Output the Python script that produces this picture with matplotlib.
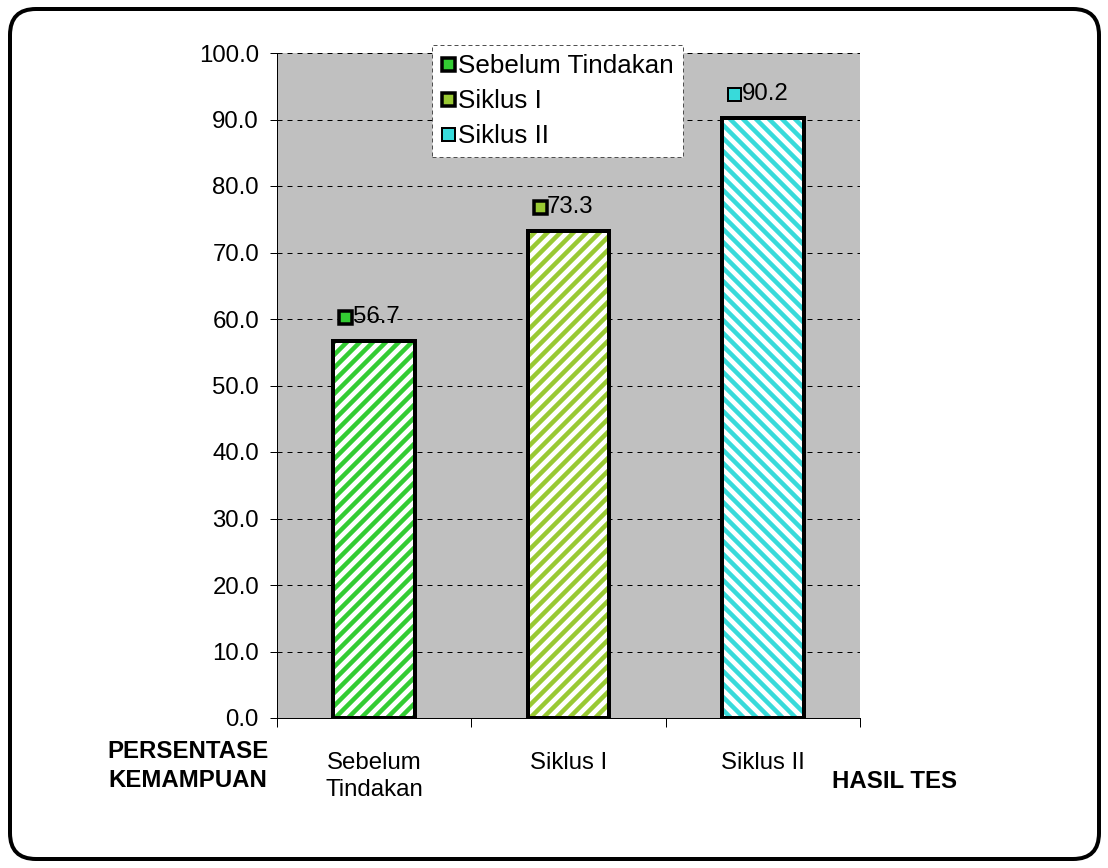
import matplotlib
matplotlib.use("Agg")
import matplotlib.pyplot as plt
from matplotlib.lines import Line2D
from matplotlib.patches import FancyBboxPatch

# data
categories = ['Sebelum\nTindakan', 'Siklus I', 'Siklus II']
legend_names = ['Sebelum Tindakan', 'Siklus I', 'Siklus II']
values = [56.7, 73.3, 90.2]
colors = ['#33CC33', '#99C933', '#38DADA']
hatches = ['////', '////', '\\\\\\\\']
yticks = [0, 10, 20, 30, 40, 50, 60, 70, 80, 90, 100]

DPI = 156  # picked so the hatch stripes come out ~13px apart


def pt(px):
    return px * 72.0 / DPI


plt.rcParams['font.family'] = ['Liberation Sans', 'DejaVu Sans']
plt.rcParams['hatch.linewidth'] = pt(4.5)

W, H = 1108, 868
fig = plt.figure(figsize=(W / DPI, H / DPI), dpi=DPI)
ax = fig.add_axes([277 / W, 1 - 718 / H, (860 - 277) / W, (718 - 53) / H])
ax.set_facecolor('#C0C0C0')

fs = pt(24)
x = list(range(len(values)))

# stripes first, then the black outline on top
for i, v in enumerate(values):
    ax.bar(i, v, width=0.42, color='white', edgecolor=colors[i],
           hatch=hatches[i], linewidth=0, zorder=2)
    ax.bar(i, v, width=0.42, fill=False, edgecolor='black',
           linewidth=pt(4), zorder=3)
    ax.plot(i - 0.148, v + 3.6, marker='s', markersize=pt(13),
            markerfacecolor=colors[i], markeredgecolor='black',
            markeredgewidth=pt(3.5 if i < 2 else 2), zorder=4, clip_on=False)
    ax.text(i - 0.11, v + 3.6, f'{v:.1f}', fontsize=fs, va='center',
            ha='left', zorder=4)

ax.set_xlim(-0.5, 2.5)
ax.set_ylim(0, 100)
ax.set_yticks(yticks)
ax.set_yticklabels([f'{t:.1f}' for t in yticks])
ax.yaxis.grid(True, color='black', linestyle=(0, (5, 5)), linewidth=pt(1))
ax.set_axisbelow(True)

ax.set_xticks([-0.5, 0.5, 1.5, 2.5])
ax.set_xticklabels([])
ax.set_xticks(x, minor=True)
ax.set_xticklabels(categories, minor=True, fontsize=fs, linespacing=1.3)
ax.tick_params(axis='x', which='major', length=pt(9), width=pt(1))
ax.tick_params(axis='x', which='minor', length=0, pad=pt(34))
ax.tick_params(axis='y', length=pt(7), width=pt(1), pad=pt(11), labelsize=fs)

for s in ['top', 'right']:
    ax.spines[s].set_visible(False)
for s in ['left', 'bottom']:
    ax.spines[s].set_linewidth(pt(1))

handles = [Line2D([], [], linestyle='none', marker='s', markersize=pt(13),
                  markerfacecolor=colors[i], markeredgecolor='black',
                  markeredgewidth=pt(3.5 if i < 2 else 2))
           for i in range(len(values))]
leg = fig.legend(handles, legend_names, loc='upper left',
                 bbox_to_anchor=(432 / W, 1 - 45 / H), fontsize=pt(26),
                 frameon=True, fancybox=False, framealpha=1,
                 handlelength=0.5, handletextpad=0.15, labelspacing=0.42,
                 borderpad=0.35, borderaxespad=0)
frame = leg.get_frame()
frame.set_edgecolor('#505050')
frame.set_linestyle((0, (4, 3)))
frame.set_linewidth(pt(1))

fig.text(188 / W, 1 - 766 / H, 'PERSENTASE\nKEMAMPUAN', fontsize=fs,
         fontweight='bold', ha='center', va='center', linespacing=1.3)
fig.text(895 / W, 1 - 781 / H, 'HASIL TES', fontsize=fs,
         fontweight='bold', ha='center', va='center')

# rounded frame round the whole chart
border = FancyBboxPatch((10 / DPI, 9 / DPI), 1089 / DPI, 850 / DPI,
                        boxstyle=f'round,pad=0,rounding_size={26 / DPI}',
                        transform=fig.dpi_scale_trans, fill=False,
                        edgecolor='black', linewidth=pt(4))
fig.patches.append(border)

fig.savefig('out.png', dpi=DPI)
